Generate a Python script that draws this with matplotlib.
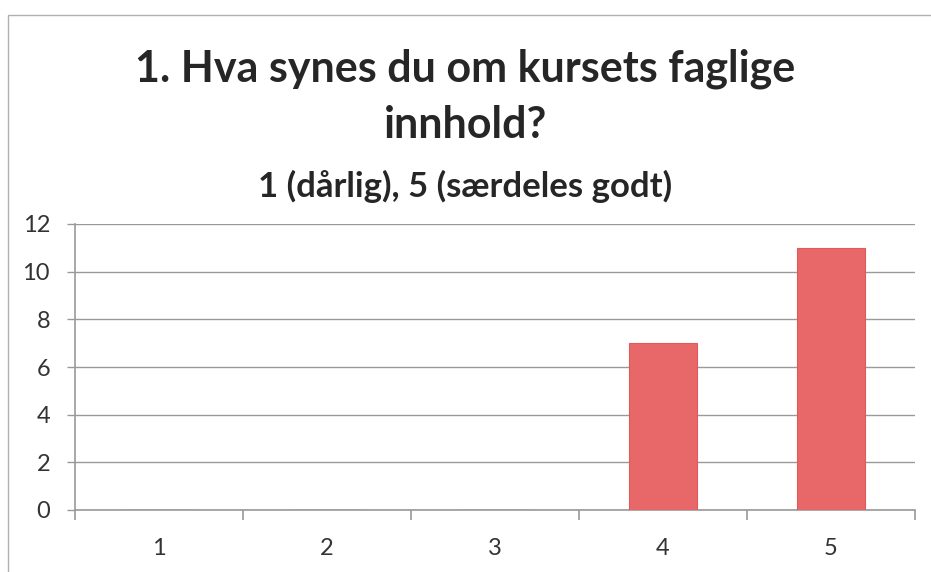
import matplotlib
matplotlib.use("Agg")
import matplotlib.pyplot as plt
from matplotlib.patches import Rectangle

categories = ["1", "2", "3", "4", "5"]
values = [0, 0, 0, 7, 11]
yticks = [0, 2, 4, 6, 8, 10, 12]
title = "1. Hva synes du om kursets faglige\ninnhold?"
subtitle = "1 (dårlig), 5 (særdeles godt)"

plt.rcParams['font.family'] = ['Lato', 'DejaVu Sans']

W, H = 931, 572
fig = plt.figure(figsize=(W / 100, H / 100), dpi=100)
fig.patch.set_facecolor("white")

# chart frame
fig.patches.append(Rectangle((8 / W, -0.05), 1.2, 1.0 - 15 / H + 0.05, transform=fig.transFigure,
                             fill=False, edgecolor="#b0b0b0", linewidth=1.0))

ax = fig.add_axes([75 / W, 1 - 510 / H, (915 - 75) / W, (510 - 224) / H])
x = list(range(len(categories)))
ax.bar(x, values, width=0.4, color="#e8686a", edgecolor="#e05a5c", linewidth=0.8, zorder=3)
ax.set_xlim(-0.5, len(categories) - 0.5)
ax.set_ylim(0, 12)
ax.set_yticks(yticks)
ax.set_yticklabels([str(t) for t in yticks], fontsize=17, color="#333333")
ax.set_xticks(x)
ax.set_xticklabels(categories, fontsize=17, color="#333333")
ax.set_xticks([i - 0.5 for i in range(len(categories) + 1)], minor=True)
ax.tick_params(axis="x", which="major", length=0, pad=20)
ax.tick_params(axis="x", which="minor", length=7, color="#999999", width=1.2)
ax.tick_params(axis="y", length=6, color="#999999", width=1.0, pad=12)
ax.grid(axis="y", color="#999999", linewidth=1.0, zorder=0)
for s in ["top", "right"]:
    ax.spines[s].set_visible(False)
for s in ["left", "bottom"]:
    ax.spines[s].set_color("#999999")
    ax.spines[s].set_linewidth(1.2)

fig.text(0.5, 1 - 97 / H, title, ha="center", va="center", fontsize=31, fontweight="bold",
         color="#262626", linespacing=1.5)
fig.text(0.5, 1 - 186 / H, subtitle, ha="center", va="center", fontsize=25, fontweight="bold",
         color="#262626")

fig.savefig("out.png", dpi=100, facecolor="white")
